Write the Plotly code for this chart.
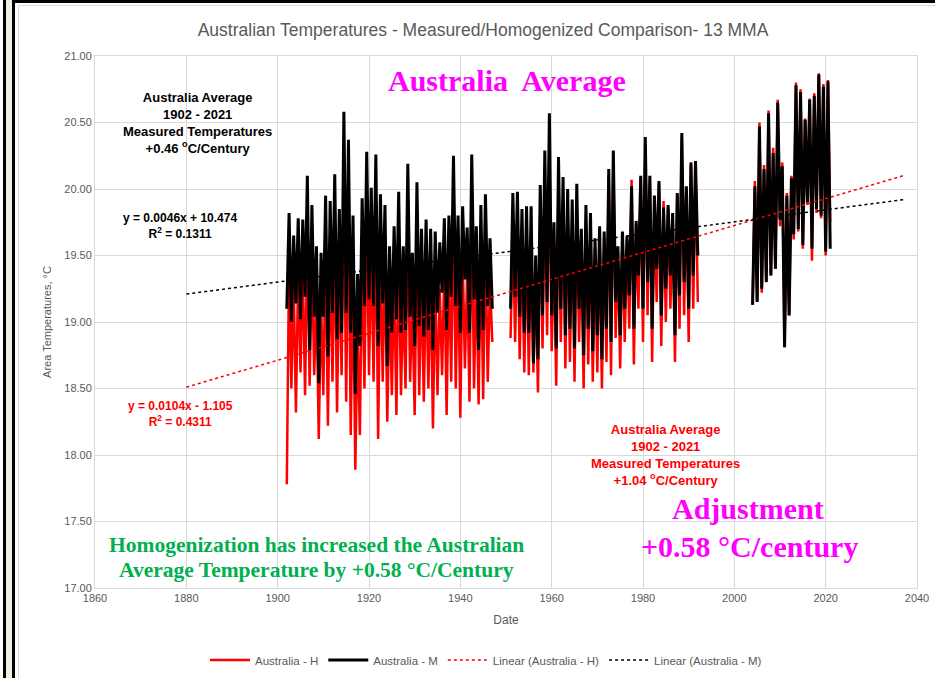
import plotly.graph_objects as go

# 13-month moving averages; each segment alternates
# trough (whole year) and peak (half year)
seg_starts = [1902.0, 1951.0, 2004.0]

m1_trough = [19.10, 19.00, 19.14, 19.02, 19.19, 18.79, 19.04, 18.54, 19.04, 18.74,
             19.07, 18.87, 18.92, 19.07, 18.92, 18.46, 18.82, 19.12, 19.17, 19.12,
             18.82, 19.14, 18.67, 18.92, 19.02, 18.92, 18.94, 19.04, 18.82, 18.97,
             18.89, 18.94, 18.79, 19.07, 19.22, 18.94, 19.19, 19.12, 18.92, 19.32,
             18.92, 19.17, 18.79, 18.94, 19.12, 19.10]
m1_peak = [19.82, 19.65, 19.78, 19.77, 20.10, 19.88, 19.57, 19.52, 19.95, 19.91,
           20.11, 19.85, 20.58, 20.37, 19.80, 19.36, 19.93, 20.28, 20.01, 20.26,
           19.96, 19.88, 19.57, 19.72, 19.98, 19.57, 20.19, 19.52, 20.05, 19.70,
           19.77, 19.70, 19.68, 19.60, 19.78, 19.80, 20.25, 19.80, 19.87, 19.71,
           20.26, 19.72, 19.88, 19.96, 19.63]
h1_trough = [17.78, 18.50, 18.32, 18.62, 18.45, 18.52, 18.60, 18.12, 18.45, 18.22,
             18.55, 18.32, 18.60, 18.40, 18.15, 17.89, 18.15, 18.50, 18.60, 18.55,
             18.12, 18.55, 18.25, 18.45, 18.30, 18.45, 18.50, 18.55, 18.30, 18.45,
             18.40, 18.50, 18.20, 18.45, 18.60, 18.30, 18.55, 18.50, 18.28, 18.65,
             18.40, 18.50, 18.38, 18.42, 18.55, 18.85]
h1_peak = [19.45, 19.30, 19.40, 19.42, 19.70, 19.50, 19.20, 19.15, 19.60, 19.55,
           19.70, 19.45, 20.07, 19.95, 19.40, 18.95, 19.55, 19.85, 19.60, 19.85,
           19.55, 19.50, 19.20, 19.35, 19.60, 19.20, 19.80, 19.15, 19.65, 19.35,
           19.40, 19.35, 19.30, 19.25, 19.42, 19.45, 19.85, 19.45, 19.52, 19.38,
           19.90, 19.40, 19.55, 19.62, 19.30]

m2_trough = [19.10, 19.19, 19.04, 18.92, 18.92, 18.69, 18.72, 19.05, 19.15, 19.05,
             18.80, 19.10, 18.90, 18.95, 18.80, 19.10, 18.75, 18.95, 18.78, 18.90,
             18.72, 18.95, 18.85, 19.15, 18.90, 19.10, 19.20, 18.95, 19.35, 19.10,
             19.30, 18.95, 19.40, 19.05, 19.25, 19.35, 18.90, 19.20, 19.30, 19.10,
             19.35, 19.50]
m2_peak = [19.97, 19.98, 19.85, 19.87, 19.87, 19.50, 20.03, 20.29, 20.57, 19.75,
           20.24, 20.09, 20.00, 19.92, 20.04, 19.70, 19.88, 19.82, 19.63, 19.72,
           19.68, 20.15, 20.29, 19.57, 19.68, 19.65, 20.02, 19.76, 20.10, 20.39,
           20.10, 19.95, 20.06, 19.86, 19.88, 19.82, 19.97, 20.42, 20.02, 20.20,
           20.21]
h2_trough = [18.88, 18.85, 18.72, 18.62, 18.60, 18.62, 18.47, 18.80, 18.90, 18.78,
             18.52, 18.85, 18.65, 18.70, 18.55, 18.85, 18.50, 18.68, 18.55, 18.62,
             18.50, 18.70, 18.60, 18.88, 18.65, 18.85, 18.95, 18.68, 19.10, 18.85,
             19.05, 18.70, 19.15, 18.82, 19.00, 19.10, 18.70, 18.95, 19.05, 18.85,
             19.10, 19.15]
h2_peak = [19.70, 19.72, 19.62, 19.62, 19.65, 19.30, 19.82, 20.05, 20.35, 19.55,
           20.05, 19.92, 19.85, 19.78, 19.90, 19.58, 19.78, 19.72, 19.55, 19.65,
           19.62, 20.10, 20.22, 19.52, 19.65, 19.62, 20.07, 19.74, 20.08, 20.33,
           20.06, 19.93, 20.04, 19.91, 19.86, 19.80, 19.96, 20.38, 20.00, 20.18,
           20.18]

m3_trough = [19.13, 19.15, 19.25, 19.30, 19.35, 19.40, 19.77, 18.81, 19.05, 19.66,
             19.70, 19.58, 19.90, 19.55, 19.85, 19.80, 19.53, 19.55]
m3_peak = [20.02, 20.47, 20.15, 20.57, 20.27, 20.65, 20.17, 19.95, 20.08, 20.78,
           20.73, 20.52, 20.67, 20.70, 20.86, 20.77, 20.81]
h3_trough = [19.13, 19.15, 19.22, 19.30, 19.35, 19.40, 19.72, 18.81, 19.05, 19.62,
             19.68, 19.55, 19.88, 19.46, 19.82, 19.78, 19.50, 19.75]
h3_peak = [20.06, 20.50, 20.18, 20.59, 20.31, 20.67, 20.20, 19.97, 20.10, 20.80,
           20.75, 20.53, 20.68, 20.72, 20.87, 20.79, 20.82]

# linear trend lines (end points as drawn)
trend_years = [1880, 2037]
trend_h = [18.51, 20.10]
trend_m = [19.21, 19.92]


def build(parts):
    xs, ys = [], []
    for start, troughs, peaks in parts:
        if xs:
            xs.append(None)
            ys.append(None)
        for i, t in enumerate(troughs):
            xs.append(start + i)
            ys.append(t)
            if i < len(peaks):
                xs.append(start + i + 0.5)
                ys.append(peaks[i])
    return xs, ys


hx, hy = build(zip(seg_starts, [h1_trough, h2_trough, h3_trough], [h1_peak, h2_peak, h3_peak]))
mx, my = build(zip(seg_starts, [m1_trough, m2_trough, m3_trough], [m1_peak, m2_peak, m3_peak]))

GRAY = "#595959"
GRID = "#d9d9d9"
SANS = "Liberation Sans"
SERIF = "Liberation Serif"

fig = go.Figure()
fig.add_trace(go.Scatter(x=hx, y=hy, mode="lines", name="Australia - H",
                         line=dict(color="#ff0000", width=2.5)))
fig.add_trace(go.Scatter(x=mx, y=my, mode="lines", name="Australia - M",
                         line=dict(color="#000000", width=3)))
fig.add_trace(go.Scatter(x=trend_years, y=trend_h, mode="lines", name="Linear (Australia - H)",
                         line=dict(color="#ff0000", width=1.5, dash="dot")))
fig.add_trace(go.Scatter(x=trend_years, y=trend_m, mode="lines", name="Linear (Australia - M)",
                         line=dict(color="#000000", width=1.5, dash="dot")))

# plot area in pixels: left 95, right 917, top 56, bottom 588
def px(x):
    return (x - 95) / 822


def py(y):
    return (588 - y) / 532


def note(text, x, y, size, color, font=SANS, bold=True):
    fig.add_annotation(
        text=f"<b>{text}</b>" if bold else text, x=px(x), y=py(y), xref="paper", yref="paper",
        showarrow=False, xanchor="center", yanchor="middle", align="center",
        font=dict(family=font, size=size, color=color),
    )


note("Australia  Average", 507, 81, 30, "#ff00ff", SERIF)
note("Australia Average<br>1902 - 2021<br>Measured Temperatures<br>+0.46 <sup>o</sup>C/Century",
     197, 123, 13, "#000000")
note("y = 0.0046x + 10.474<br>R<sup>2</sup> = 0.1311", 180, 226, 12, "#000000")
note("y = 0.0104x - 1.105<br>R<sup>2</sup> = 0.4311", 180, 414, 12, "#ff0000")
note("Australia Average<br>1902 - 2021<br>Measured Temperatures<br>+1.04 <sup>o</sup>C/Century",
     665, 455, 13, "#ff0000")
note("Adjustment", 748, 508, 30, "#ff00ff", SERIF)
note("+0.58 °C/century", 749, 546, 30, "#ff00ff", SERIF)
note("Homogenization has increased the Australian", 316, 545, 21.5, "#00b050", SERIF)
note("Average Temperature by +0.58 °C/Century", 316, 570, 21.5, "#00b050", SERIF)

# outer frame
shapes = [
    dict(type="rect", x0=px(6), x1=px(12), y0=py(0), y1=py(678), fillcolor="#efefdf", line_width=0),
    dict(type="line", x0=px(4.5), x1=px(4.5), y0=py(0), y1=py(678), line=dict(color="black", width=3)),
    dict(type="line", x0=px(13.5), x1=px(13.5), y0=py(0), y1=py(678), line=dict(color="black", width=3)),
    dict(type="line", x0=px(12), x1=px(935), y0=py(1.5), y1=py(1.5), line=dict(color="black", width=3)),
    dict(type="rect", x0=px(18.5), x1=px(940), y0=py(5.5), y1=py(690), line=dict(color=GRID, width=1)),
]
for s in shapes:
    s.update(xref="paper", yref="paper", layer="above")
fig.update_layout(shapes=shapes)

fig.update_layout(
    width=935, height=678,
    margin=dict(l=95, r=18, t=56, b=90, autoexpand=False),
    paper_bgcolor="white", plot_bgcolor="white",
    title=dict(text="Australian Temperatures - Measured/Homogenized Comparison- 13 MMA",
               x=483 / 935, xanchor="center", y=1 - 30 / 678, yanchor="middle",
               font=dict(family=SANS, size=17.5, color=GRAY)),
    font=dict(family=SANS, size=11, color=GRAY),
    legend=dict(orientation="h", x=px(486), xanchor="center",
                y=py(660), yanchor="middle", font=dict(size=11.5, color=GRAY),
                itemwidth=40),
    showlegend=True,
)
fig.update_xaxes(range=[1860, 2040], dtick=20, tick0=1860, showgrid=True, gridcolor=GRID,
                 showline=True, linecolor=GRID, mirror=True, zeroline=False, ticks="",
                 title=dict(text="Date", font=dict(size=12, color=GRAY), standoff=12),
                 tickfont=dict(size=11, color=GRAY))
fig.update_yaxes(range=[17, 21], dtick=0.5, tick0=17, tickformat=".2f", showgrid=True,
                 gridcolor=GRID, showline=True, linecolor=GRID, mirror=True, zeroline=False,
                 ticks="", title=dict(text="Area Temperatures, °C", font=dict(size=11, color=GRAY),
                                      standoff=10),
                 tickfont=dict(size=11, color=GRAY))

# drop the default 8px page margin so the figure sits at the window's corner
fig.write_html("out.html", config={"displayModeBar": False},
               post_script="document.body.style.margin='0';")
